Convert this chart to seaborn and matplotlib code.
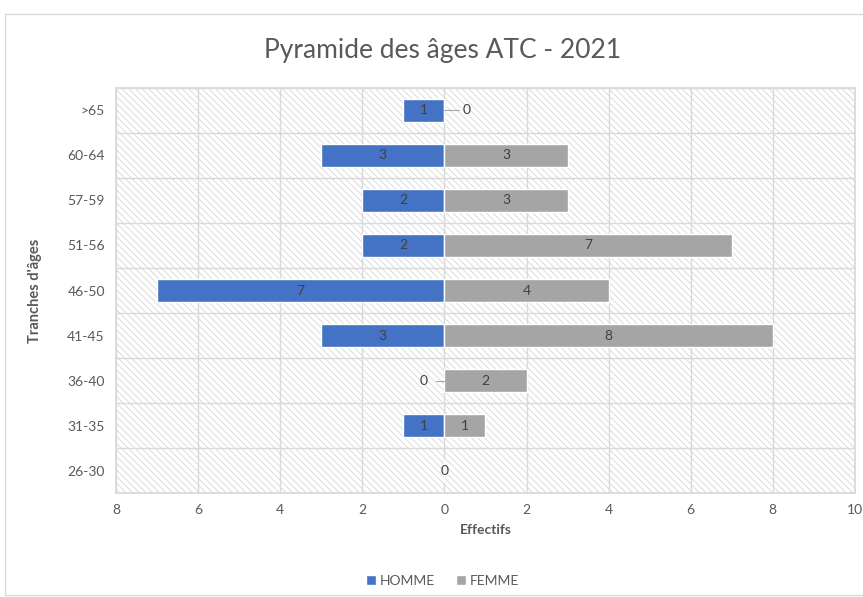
import numpy as np
import pandas as pd
import matplotlib
matplotlib.use("Agg")
import matplotlib.pyplot as plt
import seaborn as sns
from matplotlib.patches import Rectangle

# data (top to bottom)
tranches = [">65", "60-64", "57-59", "51-56", "46-50", "41-45", "36-40", "31-35", "26-30"]
homme = [1, 3, 2, 2, 7, 3, 0, 1, 0]
femme = [0, 3, 3, 7, 4, 8, 2, 1, 0]
x_ticks = [-8, -6, -4, -2, 0, 2, 4, 6, 8, 10]

sns.set_theme(style="white")
plt.rcParams['font.family'] = ['Lato', 'DejaVu Sans']
plt.rcParams['hatch.linewidth'] = 0.6

df = pd.DataFrame({
    "Tranche": tranches * 2,
    "Effectif": [-v for v in homme] + femme,
    "Sexe": ["HOMME"] * len(tranches) + ["FEMME"] * len(tranches),
})

grid_c = "#d9d9d9"
text_c = "#595959"
palette = {"HOMME": "#4472C4", "FEMME": "#A5A5A5"}

fig = plt.figure(figsize=(8.63, 5.97), dpi=100)
ax = fig.add_axes([0.1344, 0.1742, 0.8563, 0.6784])

# hatched background like the Excel plot area
ax.add_patch(Rectangle((0, 0), 1, 1, transform=ax.transAxes, facecolor="white",
                       edgecolor="#d6d6d6", hatch="\\\\\\\\\\", linewidth=0, zorder=0))

sns.barplot(data=df, x="Effectif", y="Tranche", hue="Sexe", order=tranches,
            palette=palette, dodge=False, width=0.5, orient="h",
            saturation=1, ax=ax, zorder=3, legend=True)

ax.set_xlim(-8, 10)
ax.set_ylim(len(tranches) - 0.5, -0.5)
ax.set_xticks(x_ticks)
ax.set_xticklabels([str(abs(t)) for t in x_ticks])
ax.set_yticks(np.arange(len(tranches)))
ax.set_yticklabels(tranches)
ax.tick_params(axis="both", colors=text_c, labelsize=10, length=0, pad=8)

# gridlines: vertical at ticks, horizontal between categories
for t in x_ticks:
    ax.axvline(t, color=grid_c, lw=1, zorder=1)
for b in np.arange(len(tranches) + 1) - 0.5:
    ax.axhline(b, color=grid_c, lw=1, zorder=1)
for s in ax.spines.values():
    s.set_color(grid_c)

# value labels
lab_c = "#404040"
for cont, vals in zip(ax.containers, [homme, femme]):
    ax.bar_label(cont, labels=[str(v) if v else "" for v in vals],
                 label_type="center", color=lab_c, fontsize=10)
for i, (h, f) in enumerate(zip(homme, femme)):
    if h == 0 and f == 0:
        ax.text(0, i, "0", ha="center", va="center", color=lab_c, fontsize=10, zorder=4)
    elif h == 0:
        ax.plot([-0.2, 0], [i, i], color="#a6a6a6", lw=0.8, zorder=4)
        ax.text(-0.5, i, "0", ha="center", va="center", color=lab_c, fontsize=10, zorder=4)
    elif f == 0:
        ax.plot([0, 0.35], [i, i], color="#a6a6a6", lw=0.8, zorder=4)
        ax.text(0.55, i, "0", ha="center", va="center", color=lab_c, fontsize=10, zorder=4)

ax.set_xlabel("Effectifs", fontsize=10, fontweight="bold", color=text_c, labelpad=6)
ax.set_ylabel("Tranches d'âges", fontsize=10.5, fontweight="bold", color=text_c, labelpad=18)

fig.text(0.513, 0.916, "Pyramide des âges ATC - 2021", ha="center", va="center",
         fontsize=19, color=text_c)

handles, labels = ax.get_legend_handles_labels()
ax.get_legend().remove()
fig.legend(handles, labels, loc="center", bbox_to_anchor=(0.513, 0.027), ncol=2,
           frameon=False, fontsize=10, labelcolor=text_c, handlelength=0.7,
           handleheight=0.7, handletextpad=0.3, columnspacing=1.5)

# chart border (right edge runs off the image)
fig.add_artist(Rectangle((5 / 863, 0.003), 1.05, 1 - 14 / 597 - 0.003,
                         transform=fig.transFigure, fill=False,
                         edgecolor="#d9d9d9", lw=1))

fig.savefig("out.png", dpi=100)
